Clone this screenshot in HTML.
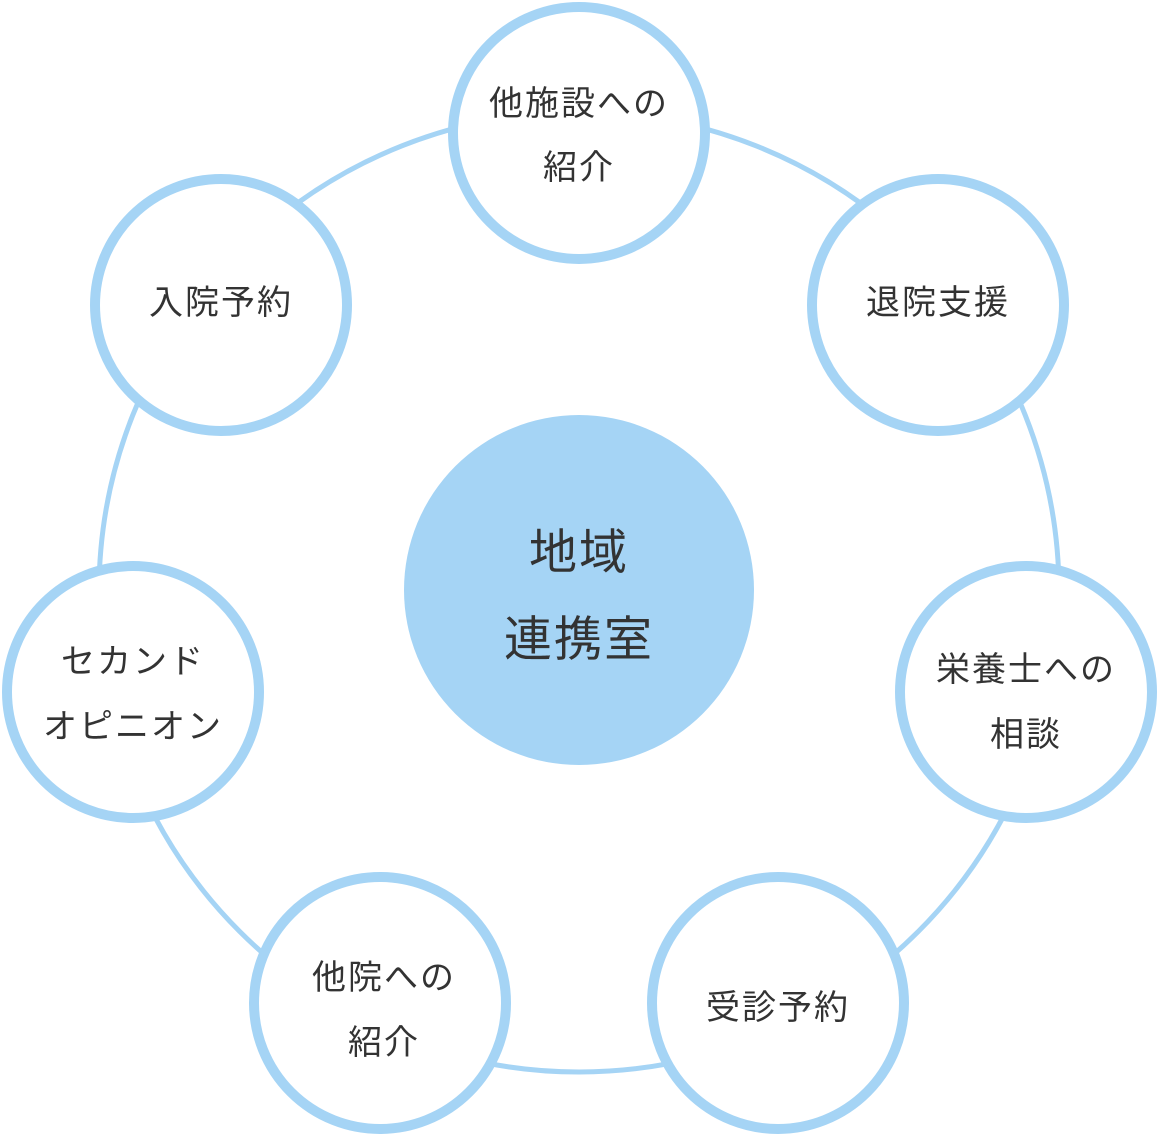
<!DOCTYPE html>
<html><head><meta charset="utf-8"><style>
html,body{margin:0;padding:0;background:#fff;}
svg text{font-family:"Liberation Sans","Noto Sans CJK JP",sans-serif;fill:#333;text-anchor:middle;dominant-baseline:central;letter-spacing:2px;}
</style></head><body>
<svg width="1158" height="1136" viewBox="0 0 1158 1136" xmlns="http://www.w3.org/2000/svg">
<circle cx="579" cy="592" r="480" fill="none" stroke="#a5d4f5" stroke-width="5"/>
<circle cx="579" cy="590" r="175" fill="#a5d4f5"/>
<text x="579" y="553" font-size="48">地域</text>
<text x="579" y="640" font-size="48">連携室</text>
<g fill="#fff" stroke="#a5d4f5" stroke-width="10">
<circle cx="579" cy="133" r="126"/>
<circle cx="221" cy="305" r="126"/>
<circle cx="938" cy="305" r="126"/>
<circle cx="133" cy="692" r="126"/>
<circle cx="1026" cy="692" r="126"/>
<circle cx="380" cy="1003" r="126"/>
<circle cx="778" cy="1003" r="126"/>
</g>
<g font-size="34">
<text x="579" y="104">他施設への</text>
<text x="579" y="168">紹介</text>
<text x="221" y="303">入院予約</text>
<text x="938" y="303">退院支援</text>
<text x="133" y="662">セカンド</text>
<text x="133" y="727">オピニオン</text>
<text x="1026" y="670">栄養士への</text>
<text x="1026" y="735">相談</text>
<text x="384" y="978">他院への</text>
<text x="384" y="1043">紹介</text>
<text x="778" y="1008">受診予約</text>
</g>
</svg>
</body></html>
